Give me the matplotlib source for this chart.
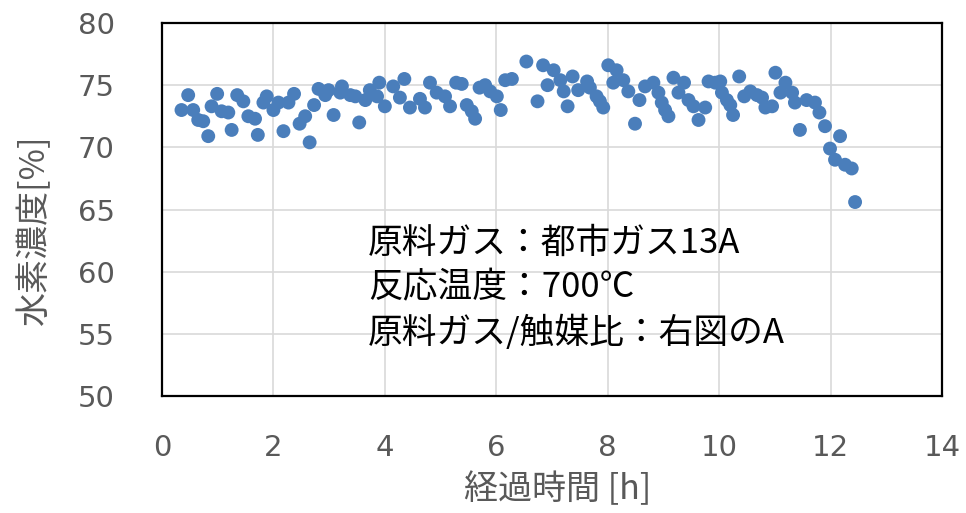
import matplotlib
matplotlib.use("Agg")
import matplotlib.pyplot as plt

plt.rcParams['font.family'] = ['Noto Sans CJK JP', 'DejaVu Sans']

# elapsed time [h]
hours = [0.35, 0.47, 0.56, 0.65, 0.74, 0.83, 0.89, 0.99, 1.07, 1.19,
         1.25, 1.35, 1.46, 1.55, 1.67, 1.72, 1.82, 1.88, 2.00, 2.09,
         2.18, 2.27, 2.37, 2.47, 2.57, 2.65, 2.73, 2.81, 2.93, 2.99,
         3.08, 3.20, 3.23, 3.38, 3.47, 3.54, 3.65, 3.73, 3.86, 3.90,
         4.00, 4.15, 4.27, 4.35, 4.45, 4.63, 4.72, 4.81, 4.93, 5.08,
         5.17, 5.28, 5.38, 5.47, 5.56, 5.62, 5.70, 5.80, 5.89, 6.01,
         6.08, 6.16, 6.28, 6.54, 6.74, 6.84, 6.92, 7.03, 7.15, 7.21,
         7.28, 7.37, 7.47, 7.63, 7.68, 7.80, 7.86, 7.92, 8.01, 8.10,
         8.16, 8.28, 8.37, 8.49, 8.57, 8.67, 8.82, 8.91, 8.97, 9.03,
         9.09, 9.18, 9.27, 9.37, 9.45, 9.54, 9.63, 9.75, 9.81, 9.93,
         10.02, 10.05, 10.14, 10.20, 10.25, 10.36, 10.45, 10.56, 10.68, 10.77,
         10.83, 10.95, 11.01, 11.10, 11.19, 11.31, 11.36, 11.45, 11.57, 11.72,
         11.80, 11.90, 11.99, 12.08, 12.17, 12.26, 12.38, 12.44]

# hydrogen concentration [%]
h2_conc = [73.0, 74.2, 73.0, 72.2, 72.1, 70.9, 73.3, 74.3, 72.9, 72.8,
           71.4, 74.2, 73.7, 72.5, 72.3, 71.0, 73.6, 74.1, 73.0, 73.6,
           71.3, 73.6, 74.3, 71.9, 72.5, 70.4, 73.4, 74.7, 74.2, 74.6,
           72.6, 74.4, 74.9, 74.2, 74.1, 72.0, 73.8, 74.6, 74.1, 75.2,
           73.3, 74.9, 74.0, 75.5, 73.2, 73.9, 73.2, 75.2, 74.4, 74.1,
           73.3, 75.2, 75.1, 73.4, 72.9, 72.3, 74.8, 75.0, 74.5, 74.1,
           73.0, 75.4, 75.5, 76.9, 73.7, 76.6, 75.0, 76.2, 75.4, 74.5,
           73.3, 75.7, 74.6, 75.3, 74.8, 74.1, 73.7, 73.2, 76.6, 75.2,
           76.2, 75.4, 74.5, 71.9, 73.8, 74.9, 75.2, 74.4, 73.6, 73.0,
           72.5, 75.6, 74.4, 75.2, 73.8, 73.3, 72.2, 73.2, 75.3, 75.2,
           75.3, 74.4, 73.8, 73.4, 72.6, 75.7, 74.1, 74.5, 74.2, 74.0,
           73.2, 73.3, 76.0, 74.4, 75.2, 74.4, 73.6, 71.4, 73.8, 73.6,
           72.8, 71.7, 69.9, 69.0, 70.9, 68.6, 68.3, 65.6]

x_ticks = [0, 2, 4, 6, 8, 10, 12, 14]
y_ticks = [50, 55, 60, 65, 70, 75, 80]

x_label = "経過時間 [h]"
y_label = "水素濃度[%]"
notes = ["原料ガス：都市ガス13A", "反応温度：700℃", "原料ガス/触媒比：右図のA"]

W, H = 966, 513
fig = plt.figure(figsize=(W / 100, H / 100), dpi=100)
left, right, top, bottom = 162, 942, 23, 396
ax = fig.add_axes([left / W, 1 - bottom / H, (right - left) / W, (bottom - top) / H])

ax.scatter(hours, h2_conc, s=100, color='#4a7ebb', edgecolors='none', zorder=3,
           clip_on=False)

ax.set_xlim(0, 14)
ax.set_ylim(50, 80)
ax.set_xticks(x_ticks)
ax.set_yticks(y_ticks)
ax.set_xticklabels([str(t) for t in x_ticks], family='DejaVu Sans')
ax.set_yticklabels([str(t) for t in y_ticks], family='DejaVu Sans')
ax.tick_params(axis='both', length=0, labelsize=21, colors='#595959')
ax.tick_params(axis='x', pad=27)
ax.tick_params(axis='y', pad=34)
ax.grid(True, color='#d9d9d9', linewidth=1.2, zorder=0)
ax.set_axisbelow(True)
for s in ax.spines.values():
    s.set_color('black')
    s.set_linewidth(1.6)

tc = '#595959'
fig.text(558 / W, 1 - 490 / H, x_label, ha='center', va='center', fontsize=24.5, color=tc)
fig.text(35 / W, 1 - 230 / H, y_label, ha='center', va='center', fontsize=24.5,
         color=tc, rotation=90)

for i, line in enumerate(notes):
    fig.text(368 / W, 1 - (243 + 45 * i) / H, line, ha='left', va='center',
             fontsize=25, color='black')

fig.savefig('out.png', dpi=100)
